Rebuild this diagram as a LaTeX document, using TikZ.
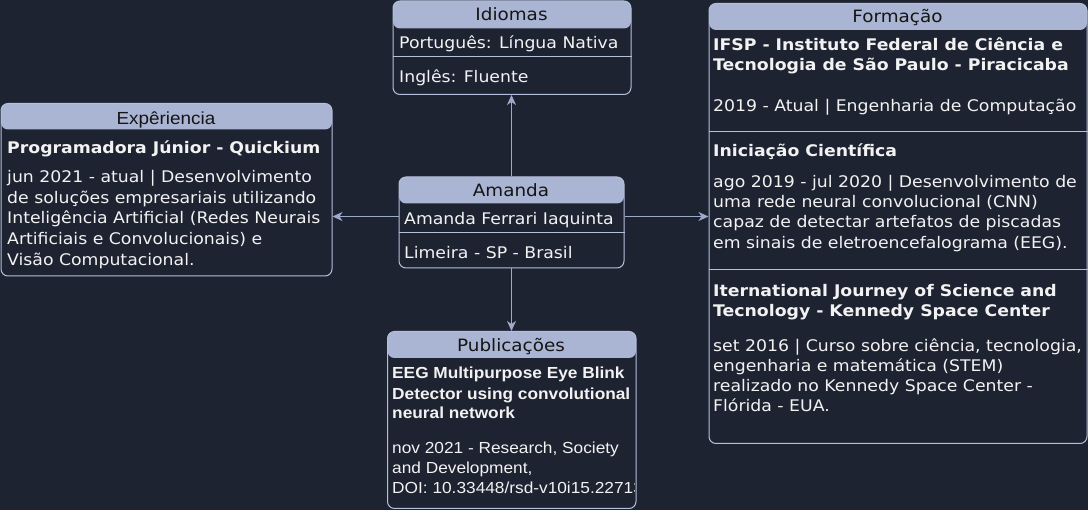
\documentclass[tikz,border=0pt]{standalone}
\usepackage{fontspec}
\setmainfont{DejaVu Sans}[FakeStretch=1.08]
\newfontfamily\arialf{Liberation Sans}[FakeStretch=1.08]
\usetikzlibrary{arrows.meta}
\definecolor{bg}{HTML}{1E2332}
\definecolor{hdr}{HTML}{A9B5D2}
\definecolor{bd}{HTML}{B4BFDA}
\definecolor{arr}{HTML}{9EAACA}
\definecolor{fg}{HTML}{F2F2F2}
\definecolor{hdrfg}{HTML}{151515}
\begin{document}
\begin{tikzpicture}[x=1pt,y=-1pt,
  box/.style={draw=bd, fill=bg, rounded corners=7pt, line width=1pt, anchor=north west, inner sep=0pt},
  hdrfill/.style={path picture={\fill[hdr] (path picture bounding box.north west) rectangle ([yshift=-#1]path picture bounding box.north east);}},
  hdrtxt/.style={text=hdrfg, font=\fontsize{17}{20}\selectfont, inner sep=0pt, anchor=base},
  txt/.style={text=fg, font=\fontsize{16}{20}\selectfont, anchor=base west, inner sep=0pt},
  btxt/.style={txt, font=\fontsize{16}{20}\selectfont\bfseries},
  atxt/.style={txt, font=\arialf\fontsize{16}{20}\selectfont},
  abtxt/.style={txt, font=\arialf\fontsize{16}{20}\selectfont\bfseries},
  divider/.style={draw=bd, line width=1pt},
  conn/.style={draw=arr, line width=1.5pt, -{Stealth[length=10pt,width=9pt,inset=3pt]}}
]
\fill[bg] (0,0) rectangle (1088,510);
\useasboundingbox (0,0) rectangle (1088,510);

% Boxes
\node[box, minimum width=331pt, minimum height=172.5pt, hdrfill=26pt] (exp) at (0.5,103) {};
\node[box, minimum width=238pt, minimum height=93.5pt, hdrfill=27.5pt] (idi) at (392.5,0.5) {};
\node[box, minimum width=225pt, minimum height=91pt, hdrfill=26.5pt] (am) at (398.5,176.5) {};
\node[box, minimum width=248.5pt, minimum height=177pt, hdrfill=26.5pt] (pub) at (387,331) {};
\node[box, minimum width=378pt, minimum height=440pt, hdrfill=26.5pt] (for) at (708.5,3) {};

% Dividers
\draw[divider] (idi.west |- 0,56.7) -- (idi.east |- 0,56.7);
\draw[divider] (am.west |- 0,232.3) -- (am.east |- 0,232.3);
\draw[divider] (for.west |- 0,131.5) -- (for.east |- 0,131.5);
\draw[divider] (for.west |- 0,270) -- (for.east |- 0,270);

% Headers
\node[hdrtxt, font=\arialf\fontsize{17.5}{20}\selectfont] (exph) at (166,124.5) {Expêriencia};
\node[hdrtxt] (idih) at (511.5,21) {Idiomas};
\node[hdrtxt] (amh) at (511,197) {Amanda};
\node[hdrtxt] (pubh) at (511,352) {Publicações};
\node[hdrtxt] (forh) at (897.5,23) {Formação};

% Experiencia
\node[btxt] (e0) at (7,153.3) {Programadora Júnior - Quickium};
\node[txt] (e1) at (7,182.7) {jun 2021 - atual | Desenvolvimento};
\node[txt] (e2) at (7,203.3) {de soluções empresariais utilizando};
\node[txt] (e3) at (7,224) {Inteligência Artificial (Redes Neurais};
\node[txt] (e4) at (7,244.7) {Artificiais e Convolucionais) e};
\node[txt] (e5) at (7,265.3) {Visão Computacional.};

% Idiomas
\node[txt] (i1) at (399,48.3) {Português: Língua Nativa};
\node[txt] (i2) at (399,82.7) {Inglês: Fluente};

% Amanda
\node[txt] (a1) at (404,225) {Amanda Ferrari Iaquinta};
\node[txt] (a2) at (404,258.3) {Limeira - SP - Brasil};

% Publicacoes
\node[abtxt] (p1) at (392,379) {EEG Multipurpose Eye Blink};
\node[abtxt] (p2) at (392,399.3) {Detector using convolutional};
\node[abtxt] (p3) at (392,419) {neural network};
\node[atxt] (p4) at (392,453.3) {nov 2021 - Research, Society};
\node[atxt] (p5) at (392,473.3) {and Development,};
\begin{scope}
\clip (pub.west |- 0,480) rectangle ([xshift=-2pt]pub.east |- 0,500);
\node[atxt] (p6) at (392,493.3) {DOI: 10.33448/rsd-v10i15.22713};
\end{scope}

% Formacao
\node[btxt] (f1) at (713,50.7) {IFSP - Instituto Federal de Ciência e};
\node[btxt] (f2) at (713,70.7) {Tecnologia de São Paulo - Piracicaba};
\node[txt] (f3) at (713,111.7) {2019 - Atual | Engenharia de Computação};
\node[btxt] (f4) at (713,156.7) {Iniciação Científica};
\node[txt] (f5) at (713,187.7) {ago 2019 - jul 2020 | Desenvolvimento de};
\node[txt] (f6) at (713,207.7) {uma rede neural convolucional (CNN)};
\node[txt] (f7) at (713,227.7) {capaz de detectar artefatos de piscadas};
\node[txt] (f8) at (713,248.3) {em sinais de eletroencefalograma (EEG).};
\node[btxt] (f9) at (713,296.7) {Iternational Journey of Science and};
\node[btxt] (f10) at (713,316.7) {Tecnology - Kennedy Space Center};
\node[txt] (f11) at (713,351.7) {set 2016 | Curso sobre ciência, tecnologia,};
\node[txt] (f12) at (713,371.7) {engenharia e matemática (STEM)};
\node[txt] (f13) at (713,391.7) {realizado no Kennedy Space Center -};
\node[txt] (f14) at (713,411.7) {Flórida - EUA.};

% Connectors
\draw[conn] ([yshift=6pt]am.west) -- ([yshift=6pt]am.west -| exp.east);
\draw[conn] ([yshift=6pt]am.east) -- ([yshift=6pt]am.east -| for.west);
\draw[conn] (am.north) -- (am.north |- idi.south);
\draw[conn] (am.south) -- (am.south |- pub.north);
\end{tikzpicture}
\end{document}
